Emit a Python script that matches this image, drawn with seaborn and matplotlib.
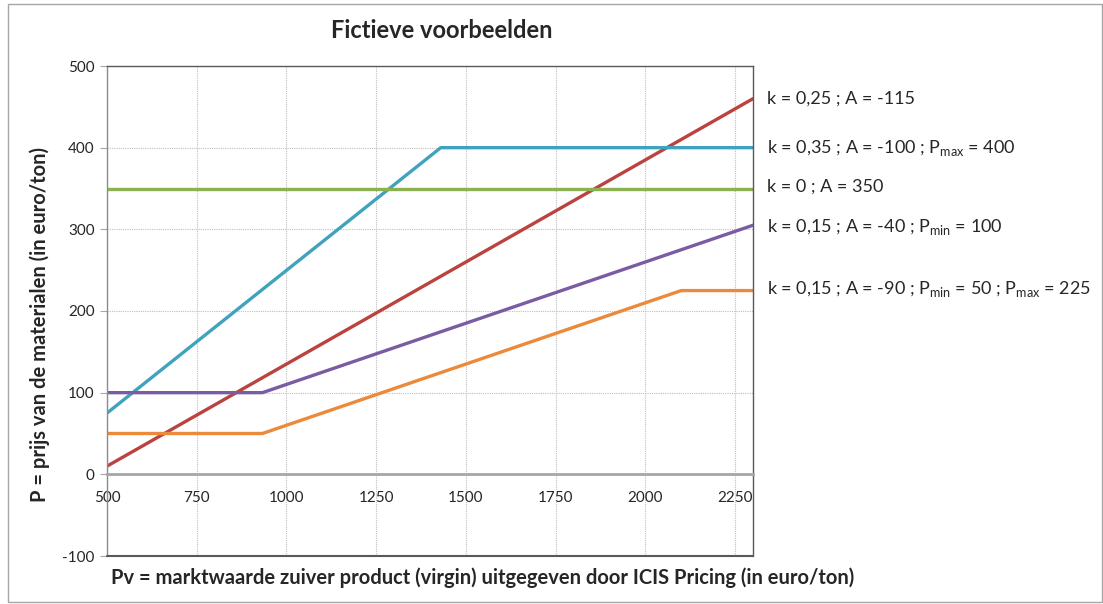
import matplotlib
matplotlib.use("Agg")
import matplotlib.pyplot as plt
import pandas as pd
import seaborn as sns
from matplotlib.patches import Rectangle

# breakpoints of each fictive price curve
red_x = [500, 2300]
red_y = [10, 460]
teal_x = [500, 1430, 2300]
teal_y = [75, 400, 400]
green_x = [500, 2300]
green_y = [350, 350]
purple_x = [500, 933, 2300]
purple_y = [100, 100, 305]
orange_x = [500, 933, 2100, 2300]
orange_y = [50, 50, 225, 225]

labels = {
    "red": "k = 0,25 ; A = -115",
    "teal": r"k = 0,35 ; A = -100 ; P$_{\mathregular{max}}$ = 400",
    "green": "k = 0 ; A = 350",
    "purple": r"k = 0,15 ; A = -40 ; P$_{\mathregular{min}}$ = 100",
    "orange": r"k = 0,15 ; A = -90 ; P$_{\mathregular{min}}$ = 50 ; P$_{\mathregular{max}}$ = 225",
}
# y of each right-hand label (data units)
label_y = {"red": 460, "teal": 400, "green": 352, "purple": 303, "orange": 227}

x_ticks = [500, 750, 1000, 1250, 1500, 1750, 2000, 2250]
y_ticks = [-100, 0, 100, 200, 300, 400, 500]

colors = {
    "red": "#BA4340",
    "teal": "#40A3BD",
    "green": "#8DB050",
    "purple": "#7A5CA3",
    "orange": "#EB8A3A",
}

frames = []
for name, xs, ys in [("red", red_x, red_y), ("teal", teal_x, teal_y),
                     ("green", green_x, green_y), ("purple", purple_x, purple_y),
                     ("orange", orange_x, orange_y)]:
    frames.append(pd.DataFrame({"Pv": xs, "P": ys, "serie": name}))
df = pd.concat(frames, ignore_index=True)

sns.set_style("white")
plt.rcParams["font.family"] = ["Lato", "DejaVu Sans"]
plt.rcParams["mathtext.fontset"] = "custom"
plt.rcParams["mathtext.rm"] = "Lato"
plt.rcParams["axes.unicode_minus"] = False

fig = plt.figure(figsize=(11.03, 6.04), dpi=100)
ax = fig.add_axes([107 / 1103, 1 - 556 / 604, 646 / 1103, 490 / 604])

sns.lineplot(data=df, x="Pv", y="P", hue="serie", palette=colors,
             estimator=None, sort=False, linewidth=2.4, legend=False, ax=ax)

ax.set_xlim(500, 2300)
ax.set_ylim(-100, 500)
ax.set_xticks(x_ticks)
ax.set_yticks(y_ticks)
ax.set_xlabel("")
ax.set_ylabel("")

# grid: dotted light gray
ax.grid(True, linestyle=(0, (1, 1)), color="#bfbfbf", linewidth=0.8)
ax.set_axisbelow(True)

# x axis crosses at y = 0
ax.spines["bottom"].set_position(("data", 0))
ax.spines["bottom"].set_color("#a6a6a6")
ax.spines["bottom"].set_linewidth(2.0)
ax.spines["left"].set_color("#8c8c8c")
ax.spines["top"].set_color("#595959")
ax.spines["right"].set_color("#595959")
for s in ["left", "top", "right"]:
    ax.spines[s].set_linewidth(1.0)
ax.axhline(-100, color="#595959", linewidth=1.5, clip_on=False, zorder=5)

ax.tick_params(axis="x", length=0, pad=12, labelsize=11)
ax.tick_params(axis="y", direction="out", length=5, color="#a6a6a6",
               labelsize=11, pad=4, left=True)

for name, txt in labels.items():
    ax.text(2300 + 38, label_y[name], txt, fontsize=13, va="center",
            ha="left", clip_on=False)

fig.text(442 / 1103, 1 - 31 / 604, "Fictieve voorbeelden", fontsize=17,
         fontweight="bold", ha="center", va="center")
fig.text(483 / 1103, 1 - 578 / 604,
         "Pv = marktwaarde zuiver product (virgin) uitgegeven door ICIS Pricing (in euro/ton)",
         fontsize=14.5, fontweight="bold", ha="center", va="center")
fig.text(40 / 1103, 1 - 324 / 604, "P = prijs van de materialen (in euro/ton)",
         fontsize=14.5, fontweight="bold", ha="center", va="center", rotation=90)

fig.patches.append(Rectangle((8 / 1103, 0.004), 1 - 9 / 1103, 1 - 6 / 604,
                             transform=fig.transFigure, fill=False,
                             edgecolor="#a6a6a6", linewidth=1.0))

fig.savefig("out.png", dpi=100)
